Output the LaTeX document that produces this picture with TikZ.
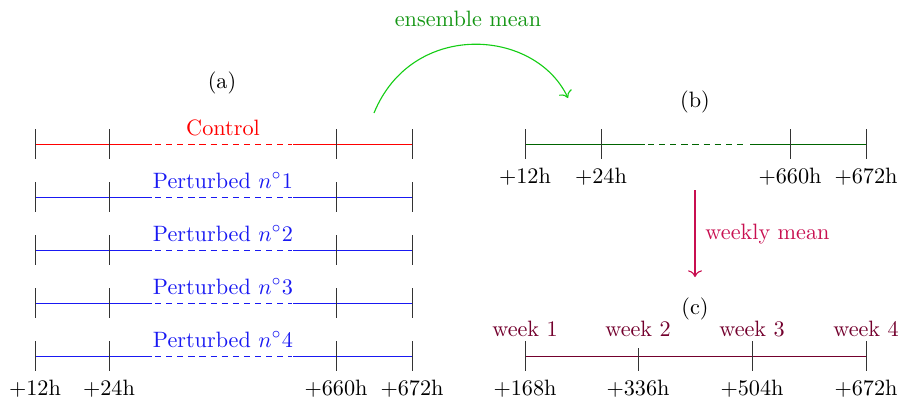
\documentclass[tikz,border=0pt]{standalone}
\usetikzlibrary{arrows.meta}
\definecolor{ctrlc}{rgb}{1,0,0}
\definecolor{pertc}{rgb}{0.1,0.1,0.95}
\definecolor{ensarrow}{RGB}{20,205,20}
\definecolor{enstext}{RGB}{20,150,20}
\definecolor{bline}{RGB}{0,100,0}
\definecolor{weekarrow}{RGB}{200,15,80}
\definecolor{cline}{RGB}{115,0,45}
\begin{document}
\begin{tikzpicture}[x=0.45pt,y=-0.45pt,
  tickmark/.style={black!80,line width=0.45pt},
  tline/.style={line width=0.45pt},
  dline/.style={line width=0.45pt,dash pattern=on 2.8pt off 2.2pt},
  lbl/.style={anchor=base,inner sep=0pt},
  hourlbl/.style={anchor=base,inner sep=0pt,black}]
\useasboundingbox (0,0) rectangle (900,399);

% (a) ensemble of five runs
\node[lbl] (pa) at (222,88) {(a)};
\foreach \yy/\col/\txt/\nm in {144/ctrlc/Control/r0, 197/pertc/{Perturbed $n^\circ 1$}/r1, 250/pertc/{Perturbed $n^\circ 2$}/r2, 303/pertc/{Perturbed $n^\circ 3$}/r3, 356/pertc/{Perturbed $n^\circ 4$}/r4}{
  \draw[tline,\col] (35,\yy) -- (152,\yy);
  \draw[dline,\col] (155,\yy) -- (292,\yy);
  \draw[tline,\col] (293,\yy) -- (412,\yy);
  \foreach \xx in {35,109,336,412}{\draw[tickmark] (\xx,\yy-15) -- (\xx,\yy+15);}
  \node[lbl,text=\col] (\nm) at (223,\yy-9) {\txt};
}
\node[hourlbl] (a1) at (35,395) {$+$12h};
\node[hourlbl] (a2) at (109,395) {$+$24h};
\node[hourlbl] (a3) at (336,395) {$+$660h};
\node[hourlbl] (a4) at (412,395) {$+$672h};

% ensemble mean arrow
\coordinate (es) at (374,113);
\coordinate (ee) at (568,98);
\draw[ensarrow,line width=0.5pt,-{To[length=3pt]}] (es) .. controls (412,20) and (535,28) .. (ee);
\node[lbl,text=enstext] (em) at (468,26) {ensemble mean};

% (b) ensemble mean series
\node[lbl] (pb) at (695,107) {(b)};
\draw[tline,bline] (525,144) -- (645,144);
\draw[dline,bline] (648,144) -- (748,144);
\draw[tline,bline] (750,144) -- (866,144);
\foreach \xx in {525,601,790,866}{\draw[tickmark] (\xx,129) -- (\xx,159);}
\node[hourlbl] (b1) at (525,183) {$+$12h};
\node[hourlbl] (b2) at (601,183) {$+$24h};
\node[hourlbl] (b3) at (790,183) {$+$660h};
\node[hourlbl] (b4) at (866,183) {$+$672h};

% weekly mean arrow
\coordinate (ws) at (695,190);
\coordinate (we) at (695,277);
\draw[weekarrow,line width=0.5pt,-{To[length=3pt]}] (ws) -- (we);
\node[anchor=base west,inner sep=0pt,text=weekarrow] (wm) at (705,239) {weekly mean};

% (c) weekly series
\node[lbl] (pc) at (695,314) {(c)};
\draw[tline,cline] (525,356) -- (866,356);
\foreach \xx in {525,752,866}{\draw[tickmark] (\xx,341) -- (\xx,371);}
\draw[tickmark] (638,348) -- (638,371);
\node[lbl,text=cline] (w1) at (525,336) {week 1};
\node[lbl,text=cline] (w2) at (638,336) {week 2};
\node[lbl,text=cline] (w3) at (752,336) {week 3};
\node[lbl,text=cline] (w4) at (866,336) {week 4};
\node[hourlbl] (c1) at (525,395) {$+$168h};
\node[hourlbl] (c2) at (638,395) {$+$336h};
\node[hourlbl] (c3) at (752,395) {$+$504h};
\node[hourlbl] (c4) at (866,395) {$+$672h};
\end{tikzpicture}
\end{document}
